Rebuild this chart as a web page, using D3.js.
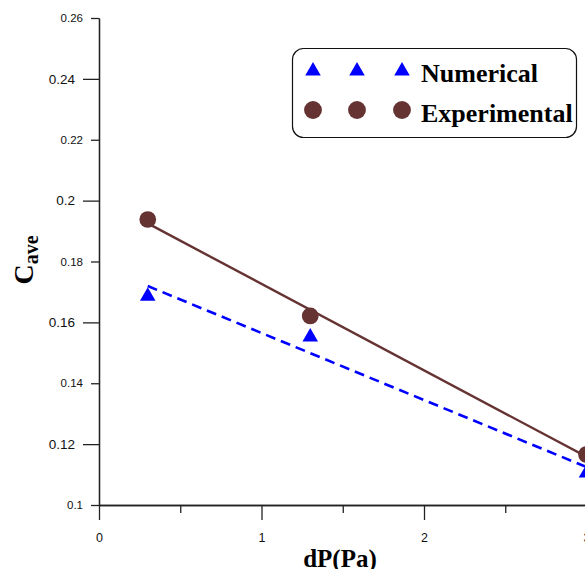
<!DOCTYPE html>
<html>
<head>
<meta charset="utf-8">
<script src="https://cdn.jsdelivr.net/npm/d3@7"></script>
<style>
  body { margin: 0; background: #fff; }
  svg { display: block; }
  .axis path, .axis line { stroke: #222; stroke-width: 1.3; }
  .axis text { font-family: Arial, "Liberation Sans", sans-serif; fill: #111; }
</style>
</head>
<body>
<div id="chart"></div>
<script>
// data
const dpValues = [0.3, 1.3, 3];
const numerical = [0.1686, 0.1552, 0.1105];
const experimental = [0.1938, 0.1621, 0.1166];
const seriesNames = ["Numerical", "Experimental"];
const xMajorTicks = [0, 1, 2, 3];
const xMinorTicks = [0.5, 1.5, 2.5];
const yMajorTicks = [0.12, 0.16, 0.2, 0.24];
const yMinorTicks = [0.1, 0.14, 0.18, 0.22, 0.26];

const w = 585, h = 569;
const blue = "#0000ff", brown = "#663333";

let svg = d3.select("#chart")
    .append("svg")
    .attr("width", w)
    .attr("height", h);

let x = d3.scaleLinear().domain([0, 3]).range([99, 586.5]);
let y = d3.scaleLinear().domain([0.1, 0.26]).range([505, 18]);

// axes
svg.append("g").attr("class", "axis")
    .attr("transform", "translate(0,505)")
    .call(d3.axisBottom(x).tickValues(xMinorTicks).tickSize(8).tickSizeOuter(0).tickFormat(""));
let xa = svg.append("g").attr("class", "axis")
    .attr("transform", "translate(0,505)")
    .call(d3.axisBottom(x).tickValues(xMajorTicks).tickSize(15).tickSizeOuter(0).tickPadding(13).tickFormat(d3.format("d")));
xa.selectAll("text").style("font-size", "12.5px");

let ya1 = svg.append("g").attr("class", "axis")
    .attr("transform", "translate(99,0)")
    .call(d3.axisLeft(y).tickValues(yMinorTicks).tickSize(8).tickSizeOuter(0).tickPadding(8).tickFormat(d => d3.format("")(+d.toFixed(2))));
ya1.selectAll("text").style("font-size", "11.5px");
let ya2 = svg.append("g").attr("class", "axis")
    .attr("transform", "translate(99,0)")
    .call(d3.axisLeft(y).tickValues(yMajorTicks).tickSize(16).tickSizeOuter(0).tickPadding(8).tickFormat(d => d3.format("")(+d.toFixed(2))));
ya2.selectAll("text").style("font-size", "13.5px");

// axis titles
svg.append("text")
    .attr("x", 340).attr("y", 567)
    .attr("text-anchor", "middle")
    .style("font-family", "'Liberation Serif', 'Times New Roman', serif")
    .style("font-weight", "bold")
    .style("font-size", "25px")
    .text("dP(Pa)");

let yt = svg.append("text")
    .attr("transform", "translate(33,260) rotate(-90)")
    .attr("text-anchor", "middle")
    .style("font-family", "'Liberation Serif', 'Times New Roman', serif")
    .style("font-weight", "bold");
yt.append("tspan").style("font-size", "28px").text("C");
yt.append("tspan").attr("dy", 5).style("font-size", "20px").text("ave");

// linear fit helper
let fit = (xs, ys) => {
    let mx = d3.mean(xs), my = d3.mean(ys);
    let sxy = d3.sum(xs, (v, i) => (v - mx) * (ys[i] - my));
    let sxx = d3.sum(xs, v => (v - mx) * (v - mx));
    let b = sxy / sxx, a = my - b * mx;
    return [dpValues[0], dpValues[dpValues.length - 1]].map(v => [v, a + b * v]);
};

let line = d3.line().x(d => x(d[0])).y(d => y(d[1]));

svg.append("path")
    .attr("d", line(fit(dpValues, numerical)))
    .attr("fill", "none")
    .attr("stroke", blue)
    .attr("stroke-width", 2.6)
    .attr("stroke-dasharray", "10,6");

svg.append("path")
    .attr("d", line(fit(dpValues, experimental)))
    .attr("fill", "none")
    .attr("stroke", brown)
    .attr("stroke-width", 2.4);

let tri = d3.symbol().type(d3.symbolTriangle).size(105);
let circ = d3.symbol().type(d3.symbolCircle).size(220);

svg.selectAll(".num")
    .data(dpValues)
    .enter()
    .append("path")
    .attr("class", "num")
    .attr("d", tri)
    .attr("transform", (d, i) => "translate(" + x(d) + "," + y(numerical[i]) + ")")
    .attr("fill", blue);

svg.selectAll(".exp")
    .data(dpValues)
    .enter()
    .append("path")
    .attr("class", "exp")
    .attr("d", circ)
    .attr("transform", (d, i) => "translate(" + x(d) + "," + y(experimental[i]) + ")")
    .attr("fill", brown);

// legend
let lg = svg.append("g");
lg.append("rect")
    .attr("x", 292.5).attr("y", 48.5)
    .attr("width", 284).attr("height", 89)
    .attr("rx", 11).attr("ry", 11)
    .attr("fill", "#fff")
    .attr("stroke", "#111")
    .attr("stroke-width", 1.2);

let legendSymbols = [tri, d3.symbol().type(d3.symbolCircle).size(250)];
let legendColors = [blue, brown];
seriesNames.forEach((name, i) => {
    let cy = i === 0 ? 71 : 110;
    [313, 357, 402].forEach(cx => {
        lg.append("path")
            .attr("d", legendSymbols[i])
            .attr("transform", "translate(" + cx + "," + cy + ")")
            .attr("fill", legendColors[i]);
    });
    lg.append("text")
        .attr("x", 421).attr("y", i === 0 ? 81.5 : 121.5)
        .style("font-family", "'Liberation Serif', 'Times New Roman', serif")
        .style("font-weight", "bold")
        .style("font-size", "26px")
        .text(name);
});
</script>
</body>
</html>
